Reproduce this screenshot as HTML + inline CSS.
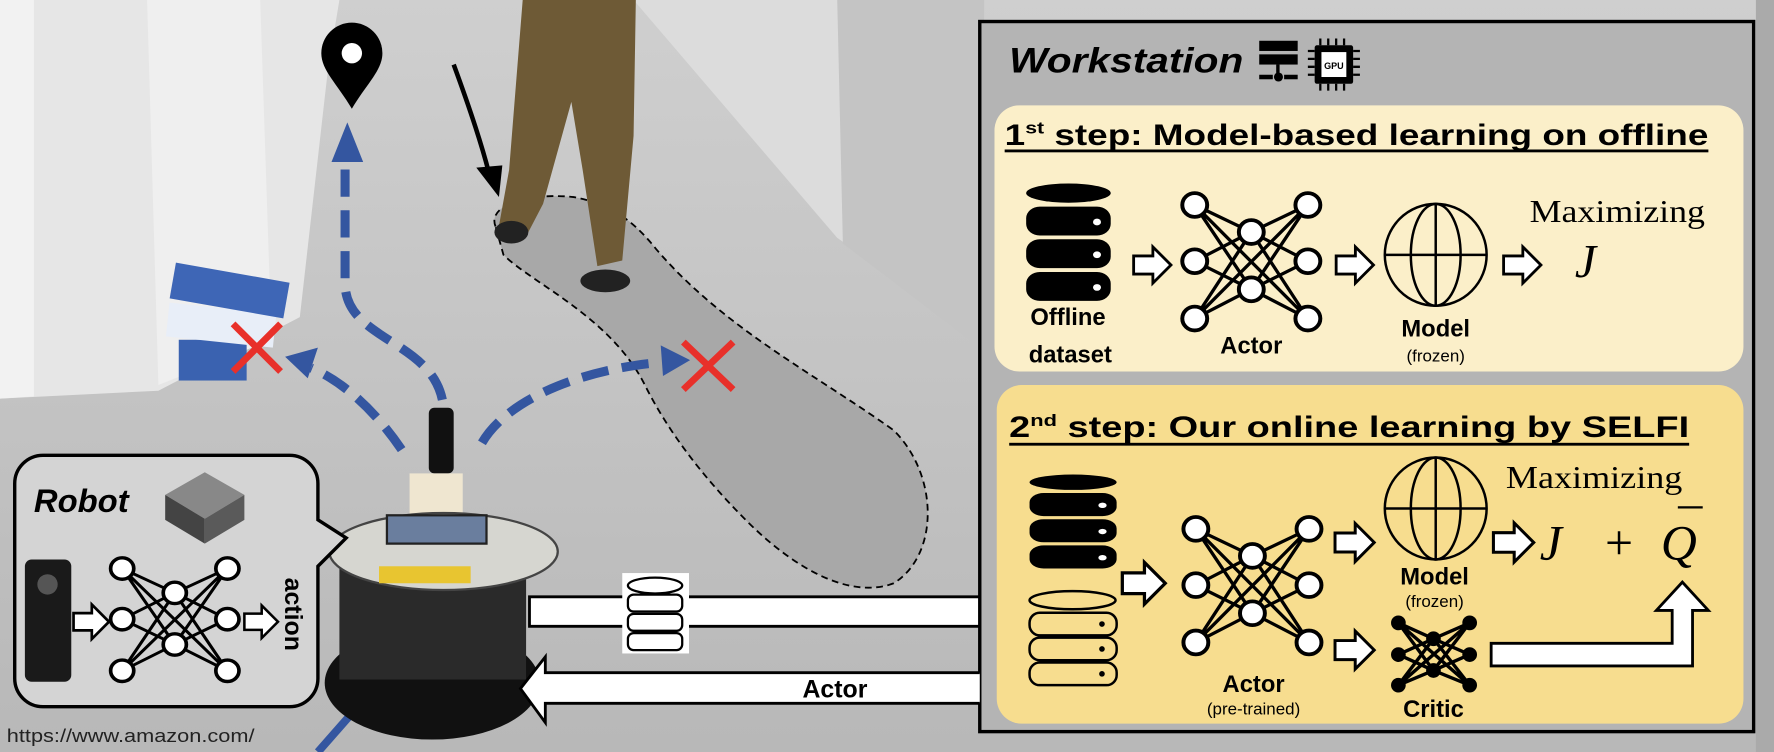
<!DOCTYPE html>
<html><head><meta charset="utf-8"><style>
html,body{margin:0;padding:0;background:#b9b9b9;overflow:hidden}
svg{display:block}
text{font-family:"Liberation Sans",sans-serif}
.s{font-family:"Liberation Serif",serif}
</style></head><body>
<svg width="1774" height="752" viewBox="0 0 1568 664" preserveAspectRatio="none" xmlns="http://www.w3.org/2000/svg">
<defs>
<linearGradient id="floor" x1="0" y1="0" x2="0" y2="1">
<stop offset="0" stop-color="#cfcfcf"/><stop offset="1" stop-color="#b8b8b8"/></linearGradient>
<g id="nn">
<g stroke="#000" stroke-width="3" fill="none">
<path d="M0,0 L50,25 M0,0 L50,78 M0,52 L50,25 M0,52 L50,78 M0,105 L50,25 M0,105 L50,78 M100,0 L50,25 M100,0 L50,78 M100,52 L50,25 M100,52 L50,78 M100,105 L50,25 M100,105 L50,78 M0,0 L100,105 M0,105 L100,0"/>
</g>
<g fill="#fff" stroke="#000" stroke-width="3.5">
<circle cx="0" cy="0" r="11"/><circle cx="0" cy="52" r="11"/><circle cx="0" cy="105" r="11"/>
<circle cx="50" cy="25" r="11"/><circle cx="50" cy="78" r="11"/>
<circle cx="100" cy="0" r="11"/><circle cx="100" cy="52" r="11"/><circle cx="100" cy="105" r="11"/>
</g></g>
<path id="ar" d="M0,-8 H17 V-16 L33,0 L17,16 V8 H0 Z" fill="#fff" stroke="#000" stroke-width="2.5"/>
<g id="globe" fill="none" stroke="#000" stroke-width="2.2">
<circle r="45"/><ellipse rx="22" ry="45"/><path d="M0,-45 V45 M-45,0 H45"/></g>
<g id="dbb">
<ellipse cx="37" cy="10" rx="37" ry="10" fill="#000"/>
<rect x="0" y="24" width="74" height="30" rx="12" fill="#000"/>
<rect x="0" y="58" width="74" height="30" rx="12" fill="#000"/>
<rect x="0" y="92" width="74" height="30" rx="12" fill="#000"/>
<circle cx="62" cy="40" r="3.5" fill="#fff"/><circle cx="62" cy="74" r="3.5" fill="#fff"/><circle cx="62" cy="108" r="3.5" fill="#fff"/>
</g>
</defs>
<!-- background -->
<rect width="1568" height="664" fill="url(#floor)"/>
<polygon points="0,0 300,0 290,60 265,280 140,345 0,352" fill="#e6e6e6"/>
<polygon points="0,0 30,0 30,350 0,352" fill="#f2f2f2"/>
<polygon points="130,0 230,0 240,300 140,340" fill="#efefef"/>
<polygon points="560,0 870,0 870,300 740,210" fill="#dcdcdc"/>
<polygon points="740,0 870,0 870,310 745,215" fill="#c4c4c4"/>
<polygon points="1552,0 1568,0 1568,664 1552,664" fill="#aaa"/>
<!-- dashed loop -->
<path d="M438,200 C430,180 470,170 507,174 C540,180 560,195 580,220 C640,290 720,330 790,380 C830,420 830,490 790,515 C750,530 700,500 660,460 C620,420 590,380 570,340 C540,280 470,250 445,225 Z" fill="#a8a8a8" stroke="#000" stroke-width="1.6" stroke-dasharray="6 4"/>
<!-- legs -->
<path d="M462,0 L562,0 L560,120 L550,230 L528,235 L515,150 L505,90 L480,180 L467,205 L440,205 L450,150 Z" fill="#6e5a36"/>
<ellipse cx="452" cy="205" rx="15" ry="10" fill="#222"/><ellipse cx="535" cy="248" rx="22" ry="10" fill="#222"/>
<!-- black curved arrow -->
<path d="M401,57 C415,95 425,125 432,152" fill="none" stroke="#000" stroke-width="4"/>
<polygon points="421,148 444,146 441,174" fill="#000"/>
<!-- pin -->
<path d="M311,96 C298,74 284,62 284,47 A27,27 0 0 1 338,47 C338,62 324,74 311,96 Z" fill="#000"/><circle cx="311" cy="47" r="9" fill="#fff"/>
<!-- books -->
<g><rect x="158" y="300" width="60" height="36" fill="#3a62b0"/><rect x="148" y="272" width="95" height="30" fill="#e8eef8" transform="rotate(6 195 287)"/><rect x="152" y="240" width="102" height="32" fill="#3e66b6" transform="rotate(10 200 256)"/></g>
<!-- blue dashed arrows -->
<g fill="none" stroke="#3456a0" stroke-width="8" stroke-dasharray="24 12">
<path d="M391,353 C380,300 305,300 305,250 L305,145"/>
<path d="M355,397 C330,360 300,335 275,325"/>
<path d="M426,391 C450,350 520,325 585,320"/>
</g>
<polygon points="307,108 293,143 321,143" fill="#3456a0"/>
<polygon points="252,315 281,307 272,334" fill="#3456a0"/>
<polygon points="610,318 584,305 586,332" fill="#3456a0"/>
<path d="M281,664 L332,606" stroke="#3456a0" stroke-width="7"/><polygon points="343,592 320,602 336,614" fill="#3456a0"/>
<!-- red X -->
<g stroke="#e8302a" stroke-width="6"><path d="M206,286 L248,328 M248,286 L206,328"/><path d="M604,302 L648,344 M648,302 L604,344"/></g>
<!-- robot -->
<rect x="379" y="360" width="22" height="58" rx="5" fill="#111"/>
<rect x="362" y="418" width="47" height="40" fill="#efe6d0"/>
<ellipse cx="382" cy="603" rx="95" ry="50" fill="#111"/>
<rect x="300" y="500" width="165" height="100" fill="#2a2a2a"/>
<ellipse cx="392" cy="487" rx="101" ry="34" fill="#d6d6d0" stroke="#444" stroke-width="2"/>
<rect x="342" y="455" width="88" height="25" fill="#6a7e9e" stroke="#222" stroke-width="2"/>
<rect x="335" y="500" width="81" height="15" fill="#e8c530"/>
<!-- robot callout -->
<path d="M38,402 H256 A25,25 0 0 1 281,427 V459 L306,475 L281,500 V599 A25,25 0 0 1 256,624 H38 A25,25 0 0 1 13,599 V427 A25,25 0 0 1 38,402 Z" fill="#d4d4d4" stroke="#000" stroke-width="3"/>
<text x="30" y="452" font-size="29" font-weight="bold" font-style="italic">Robot</text>
<polygon points="146,437 181,417 216,437 181,458" fill="#888"/><polygon points="146,437 181,458 181,480 146,459" fill="#444"/><polygon points="216,437 181,458 181,480 216,459" fill="#5a5a5a"/>
<rect x="22" y="494" width="41" height="108" rx="6" fill="#1a1a1a"/><circle cx="42" cy="516" r="9" fill="#555"/>
<use href="#ar" transform="translate(65,549) scale(0.95)"/>
<use href="#nn" transform="translate(108,502) scale(0.93,0.86)"/>
<use href="#ar" transform="translate(216,549) scale(0.9)"/>
<text transform="translate(252,510) rotate(90)" font-size="22" font-weight="bold">action</text>
<text x="6" y="655" font-size="16" fill="#222" textLength="219" lengthAdjust="spacingAndGlyphs">https://www.amazon.com/</text>
<!-- transfer arrows -->
<path d="M468,527 H868 V512 L899,540 L868,567 V553 H468 Z" fill="#fff" stroke="#000" stroke-width="2.5"/>
<rect x="550" y="506" width="59" height="71" fill="#fff"/>
<g fill="#fff" stroke="#000" stroke-width="2"><ellipse cx="579" cy="517" rx="24" ry="7"/><rect x="555" y="525" width="48" height="15" rx="5"/><rect x="555" y="542" width="48" height="15" rx="5"/><rect x="555" y="559" width="48" height="15" rx="5"/></g>
<!-- workstation -->
<rect x="866" y="19" width="684" height="627" fill="#b4b4b4" stroke="#000" stroke-width="3"/>
<path d="M866,594 H482 V580 L460,608 L482,638 V621 H866" fill="#fff" stroke="#000" stroke-width="2.5"/>
<text x="738" y="616" font-size="22" font-weight="bold" text-anchor="middle">Actor</text>
<text x="892" y="64" font-size="31" font-weight="bold" font-style="italic" textLength="207" lengthAdjust="spacingAndGlyphs">Workstation</text>
<g fill="#000"><rect x="1113" y="36" width="34" height="9"/><rect x="1113" y="48" width="34" height="9"/><rect x="1113" y="66" width="12" height="4"/><rect x="1135" y="66" width="12" height="4"/><circle cx="1130" cy="68" r="4"/><rect x="1128" y="57" width="3" height="10"/>
<rect x="1162" y="40" width="34" height="34" rx="2"/>
<g stroke="#000" stroke-width="2"><path d="M1167,34 V40 M1174,34 V40 M1181,34 V40 M1188,34 V40 M1167,74 V80 M1174,74 V80 M1181,74 V80 M1188,74 V80 M1156,45 H1162 M1156,52 H1162 M1156,59 H1162 M1156,66 H1162 M1196,45 H1202 M1196,52 H1202 M1196,59 H1202 M1196,66 H1202"/></g></g>
<rect x="1168" y="46" width="22" height="22" fill="#fff"/><text x="1179" y="61" font-size="8" text-anchor="middle" font-weight="bold">GPU</text>
<!-- panel1 -->
<rect x="879" y="93" width="662" height="235" rx="22" fill="#fbefc9"/>
<text x="888" y="128" font-size="26" font-weight="bold" textLength="622" lengthAdjust="spacingAndGlyphs">1<tspan font-size="15" dy="-10">st</tspan><tspan dy="10"> step: Model-based learning on offline</tspan></text>
<rect x="888" y="132" width="622" height="2.5" fill="#000"/>
<use href="#dbb" transform="translate(907,162) scale(1.01,0.85)"/>
<text x="944" y="287" font-size="21" font-weight="bold" text-anchor="middle">Offline</text>
<text x="946" y="320" font-size="21" font-weight="bold" text-anchor="middle">dataset</text>
<use href="#ar" transform="translate(1002,234) scale(1.0)"/>
<use href="#nn" transform="translate(1056,181) scale(1,0.955)"/>
<text x="1106" y="312" font-size="21" font-weight="bold" text-anchor="middle">Actor</text>
<use href="#ar" transform="translate(1181,234) scale(1.0)"/>
<use href="#globe" transform="translate(1269,225)"/>
<text x="1269" y="297" font-size="21" font-weight="bold" text-anchor="middle">Model</text>
<text x="1269" y="319" font-size="15" text-anchor="middle">(frozen)</text>
<use href="#ar" transform="translate(1329,234) scale(1.0)"/>
<text x="1352" y="196" class="s" font-size="28" textLength="155" lengthAdjust="spacingAndGlyphs">Maximizing</text>
<text x="1392" y="245" class="s" font-size="42" font-style="italic">J</text>
<!-- panel2 -->
<rect x="881" y="340" width="660" height="299" rx="22" fill="#f7dd8f"/>
<text x="892" y="386" font-size="26" font-weight="bold" textLength="601" lengthAdjust="spacingAndGlyphs">2<tspan font-size="15" dy="-10">nd</tspan><tspan dy="10"> step: Our online learning by SELFI</tspan></text>
<rect x="892" y="391" width="601" height="2.5" fill="#000"/>
<use href="#dbb" transform="translate(910,419) scale(1.04,0.68)"/>
<g fill="none" stroke="#000" stroke-width="2.2"><ellipse cx="948" cy="530" rx="38" ry="8"/><rect x="910" y="541" width="77" height="20" rx="9"/><rect x="910" y="563" width="77" height="20" rx="9"/><rect x="910" y="585" width="77" height="20" rx="9"/></g>
<g fill="#000"><circle cx="974" cy="551" r="2.5"/><circle cx="974" cy="573" r="2.5"/><circle cx="974" cy="595" r="2.5"/></g>
<use href="#ar" transform="translate(992,515) scale(1.15)"/>
<use href="#nn" transform="translate(1057,467) scale(1,0.955)"/>
<text x="1108" y="611" font-size="21" font-weight="bold" text-anchor="middle">Actor</text>
<text x="1108" y="631" font-size="15" text-anchor="middle">(pre-trained)</text>
<use href="#ar" transform="translate(1180,479) scale(1.05)"/>
<use href="#ar" transform="translate(1180,574) scale(1.05)"/>
<use href="#globe" transform="translate(1269,449) scale(1,1)"/>
<text x="1268" y="516" font-size="21" font-weight="bold" text-anchor="middle">Model</text>
<text x="1268" y="536" font-size="15" text-anchor="middle">(frozen)</text>
<g transform="translate(1236,550)"><path d="M0,0 L31,14 M0,0 L31,42 M0,28 L31,14 M0,28 L31,42 M0,55 L31,14 M0,55 L31,42 M63,0 L31,14 M63,0 L31,42 M63,28 L31,14 M63,28 L31,42 M63,55 L31,14 M63,55 L31,42 M0,0 L63,55 M0,55 L63,0" stroke="#000" stroke-width="3"/>
<g fill="#000"><circle r="6.5"/><circle cy="28" r="6.5"/><circle cy="55" r="6.5"/><circle cx="31" cy="14" r="6.5"/><circle cx="31" cy="42" r="6.5"/><circle cx="63" r="6.5"/><circle cx="63" cy="28" r="6.5"/><circle cx="63" cy="55" r="6.5"/></g></g>
<text x="1267" y="633" font-size="21" font-weight="bold" text-anchor="middle">Critic</text>
<use href="#ar" transform="translate(1320,479) scale(1.08)"/>
<text x="1331" y="431" class="s" font-size="28" textLength="156" lengthAdjust="spacingAndGlyphs">Maximizing</text>
<text x="1361" y="494" class="s" font-size="44" font-style="italic">J</text>
<text x="1431" y="494" class="s" font-size="44" text-anchor="middle">+</text>
<text x="1468" y="494" class="s" font-size="44" font-style="italic">Q</text>
<rect x="1483" y="447" width="22" height="2" fill="#000"/>
<path d="M1318,568 H1478 V539 H1464 L1487,514 L1510,539 H1496 V588 H1318 Z" fill="#fff" stroke="#000" stroke-width="2.5"/>
</svg>
</body></html>
